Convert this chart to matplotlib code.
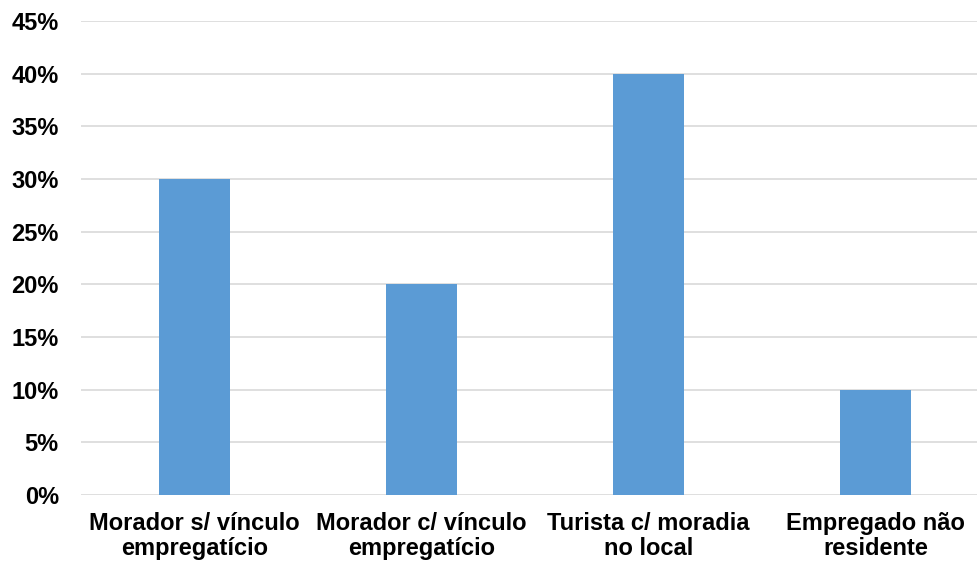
import matplotlib.pyplot as plt
from matplotlib.ticker import MultipleLocator, FuncFormatter

# categorias e percentuais
categorias = ['Morador s/ vínculo\nempregatício', 'Morador c/ vínculo\nempregatício',
              'Turista c/ moradia\nno local', 'Empregado não\nresidente']
valores = [30, 20, 40, 10]

plt.rcParams['font.family'] = ['Liberation Sans', 'DejaVu Sans']

fig = plt.figure(figsize=(9.78, 5.67), dpi=100)
ax = fig.add_axes([81/978, 1-495/567, 1-81/978, (495-21)/567])

x = range(len(categorias))
ax.bar(x, valores, width=0.313, color='#5B9BD5', zorder=3)

ax.set_ylim(0, 45)
ax.set_xlim(-0.5, -0.5 + (978-81)/227)
ax.yaxis.set_major_locator(MultipleLocator(5))
ax.yaxis.set_major_formatter(FuncFormatter(lambda v, p: f'{v:.0f}%'))
ax.grid(axis='y', color='#d9d9d9', linewidth=1.2, zorder=0)
ax.set_xticks(list(x))
ax.set_xticklabels(categorias, fontsize=17, fontweight='bold', linespacing=1.15)
ax.tick_params(axis='y', labelsize=17, length=0, pad=16)
ax.tick_params(axis='x', length=0, pad=12)
for lab in ax.get_yticklabels():
    lab.set_fontweight('bold')
for s in ax.spines.values():
    s.set_visible(False)

plt.savefig('out.png', dpi=100)
